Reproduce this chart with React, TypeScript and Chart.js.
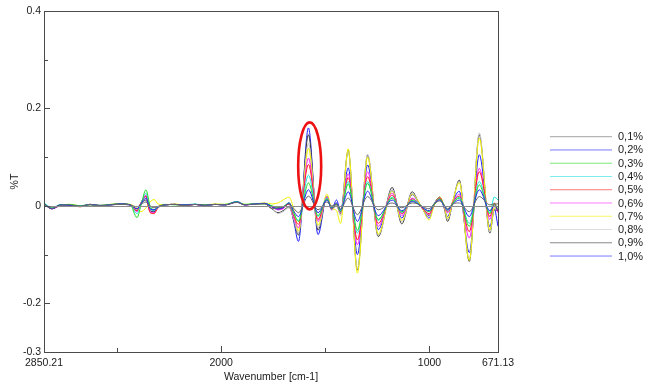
import React, { useEffect, useRef } from "react";
import { Chart, registerables } from "chart.js";

Chart.register(...registerables);

// Wavenumber sample positions (cm-1)
const wavenumbers = [
  2850.21, 2812, 2773, 2725, 2677, 2629, 2581, 2533, 2485, 2437,
  2404, 2385, 2361, 2341, 2322, 2303,
  2269, 2221, 2173, 2125, 2078, 2030, 1982, 1924, 1886, 1838, 1790,
  1756, 1727, 1703, 1674, 1650, 1629, 1581, 1535, 1492, 1470, 1446, 1427,
  1390, 1346, 1297, 1246, 1179, 1133, 1083, 1055, 1031, 1002, 978, 950,
  930, 913, 887, 857, 809, 761, 710, 689, 671.13,
];

const seriesLabels = ["0,1%", "0,2%", "0,3%", "0,4%", "0,5%", "0,6%", "0,7%", "0,8%", "0,9%", "1,0%"];

const s01 = [
  0.004, -0.005, 0.001, 0.002, -0.001, 0.003, 0.0, 0.002, 0.003, 0.002,
  -0.002, 0.003, 0.008, 0.0, -0.004, -0.001,
  0.002, 0.003, 0.001, 0.003, 0.001, 0.003, 0.002, 0.007, 0.002, 0.004, 0.004,
  -0.006, -0.004, -0.002, 0.004, -0.006, -0.014, 0.02, -0.008, 0.008, 0.0, 0.004, -0.006,
  0.016, -0.018, 0.019, -0.008, 0.006, -0.004, 0.006, 0.004, -0.002, -0.006, 0.004, 0.01,
  0.002, -0.006, 0.004, 0.006, -0.012, 0.019, 0.002, 0.004, 0.004,
];
const s02 = [
  0.005, -0.006, 0.002, 0.001, -0.001, 0.003, 0.001, 0.002, 0.004, 0.002,
  -0.006, 0.004, 0.016, -0.006, -0.008, -0.002,
  0.002, 0.003, 0.002, 0.003, 0.001, 0.003, 0.002, 0.008, 0.002, 0.004, 0.005,
  -0.002, -0.006, -0.004, 0.006, -0.012, -0.022, 0.033, -0.014, 0.012, -0.004, 0.006, -0.008,
  0.029, -0.032, 0.03, -0.02, 0.012, -0.01, 0.009, 0.004, -0.004, -0.01, 0.004, 0.012,
  0.0, -0.008, 0.004, 0.012, -0.022, 0.033, -0.01, 0.0, -0.01,
];
const s03 = [
  0.003, -0.005, 0.002, 0.003, 0.0, 0.002, 0.001, 0.003, 0.004, 0.003,
  -0.024, 0.0, 0.033, 0.0, -0.008, -0.002,
  0.003, 0.002, 0.002, 0.003, 0.002, 0.003, 0.003, 0.008, 0.003, 0.004, 0.004,
  0.0, -0.004, -0.002, 0.006, -0.016, -0.032, 0.047, -0.02, 0.014, -0.006, 0.004, -0.012,
  0.045, -0.05, 0.046, -0.028, 0.016, -0.012, 0.011, 0.004, -0.004, -0.012, 0.002, 0.014,
  0.002, -0.008, 0.006, 0.016, -0.042, 0.043, -0.016, 0.004, -0.006,
];
const s04 = [
  0.006, -0.004, 0.002, 0.002, 0.0, 0.003, 0.0, 0.002, 0.003, 0.002,
  -0.016, 0.004, 0.026, -0.004, -0.01, -0.003,
  0.002, 0.003, 0.002, 0.004, 0.001, 0.003, 0.002, 0.009, 0.002, 0.005, 0.005,
  0.0, -0.004, -0.002, 0.006, -0.018, -0.03, 0.063, -0.022, 0.016, -0.004, 0.004, -0.01,
  0.05, -0.056, 0.05, -0.03, 0.018, -0.014, 0.012, 0.006, -0.004, -0.012, 0.004, 0.014,
  0.0, -0.01, 0.006, 0.018, -0.036, 0.05, -0.014, 0.018, 0.012,
];
const s05 = [
  0.004, -0.006, 0.001, 0.002, -0.002, 0.003, 0.0, 0.002, 0.004, 0.002,
  -0.01, 0.006, 0.02, -0.014, -0.016, -0.004,
  0.002, 0.003, 0.001, 0.003, 0.001, 0.003, 0.002, 0.008, 0.002, 0.004, 0.005,
  -0.002, -0.006, -0.004, 0.004, -0.022, -0.038, 0.085, -0.028, 0.016, -0.006, 0.004, -0.012,
  0.058, -0.07, 0.06, -0.036, 0.022, -0.016, 0.014, 0.006, -0.006, -0.016, 0.002, 0.016,
  0.0, -0.012, 0.008, 0.02, -0.053, 0.07, -0.022, 0.006, -0.012,
];
const s06 = [
  0.004, -0.006, 0.001, 0.002, -0.001, 0.002, 0.0, 0.002, 0.003, 0.002,
  -0.012, 0.005, 0.022, -0.012, -0.014, -0.004,
  0.002, 0.003, 0.001, 0.003, 0.001, 0.003, 0.002, 0.008, 0.002, 0.004, 0.005,
  -0.002, -0.008, -0.006, 0.004, -0.026, -0.045, 0.098, -0.032, 0.018, -0.008, 0.004, -0.014,
  0.066, -0.08, 0.07, -0.042, 0.026, -0.02, 0.016, 0.006, -0.006, -0.018, 0.002, 0.016,
  0.0, -0.014, 0.008, 0.024, -0.066, 0.077, -0.028, 0.004, -0.014,
];
const s07 = [
  0.003, -0.004, 0.002, 0.003, 0.0, 0.003, 0.001, 0.003, 0.004, 0.003,
  -0.005, -0.012, -0.004, 0.008, 0.013, 0.004,
  0.002, 0.004, 0.002, 0.003, 0.002, 0.004, 0.003, 0.008, 0.003, 0.004, 0.006,
  0.004, 0.006, 0.012, 0.018, -0.01, -0.052, 0.118, -0.04, 0.024, -0.004, -0.01, -0.036,
  0.117, -0.138, 0.1, -0.058, 0.03, -0.03, 0.024, 0.01, -0.008, -0.029, 0.0, 0.018,
  0.0, -0.026, 0.012, 0.048, -0.112, 0.139, -0.05, -0.004, -0.01,
];
const s08 = [
  0.004, -0.005, 0.001, 0.002, -0.001, 0.003, 0.0, 0.002, 0.004, 0.002,
  -0.008, 0.004, 0.014, -0.008, -0.01, -0.003,
  0.002, 0.003, 0.001, 0.003, 0.001, 0.003, 0.002, 0.008, 0.002, 0.004, 0.004,
  -0.004, -0.016, -0.012, -0.004, -0.03, -0.056, 0.128, -0.045, 0.02, -0.006, 0.002, -0.02,
  0.112, -0.13, 0.106, -0.06, 0.034, -0.032, 0.026, 0.01, -0.006, -0.022, 0.002, 0.016,
  0.0, -0.028, 0.012, 0.05, -0.11, 0.15, -0.054, -0.006, -0.008,
];
const s09 = [
  0.004, -0.006, 0.001, 0.002, -0.001, 0.003, 0.0, 0.002, 0.004, 0.002,
  -0.006, 0.004, 0.012, -0.01, -0.012, -0.003,
  0.002, 0.003, 0.001, 0.003, 0.001, 0.003, 0.002, 0.009, 0.002, 0.004, 0.005,
  -0.006, -0.014, -0.01, -0.002, -0.032, -0.06, 0.146, -0.05, 0.02, -0.006, 0.0, -0.016,
  0.114, -0.132, 0.104, -0.063, 0.038, -0.037, 0.029, 0.01, -0.006, -0.02, 0.004, 0.018,
  -0.004, -0.032, 0.01, 0.053, -0.114, 0.146, -0.056, -0.008, -0.01,
];
const s10 = [
  0.003, -0.006, 0.0, 0.002, -0.001, 0.003, 0.0, 0.002, 0.004, 0.002,
  -0.01, 0.006, 0.02, -0.008, -0.012, -0.003,
  0.002, 0.003, 0.001, 0.003, 0.001, 0.003, 0.002, 0.008, 0.002, 0.004, 0.005,
  -0.002, -0.008, -0.004, 0.006, -0.035, -0.073, 0.16, -0.059, 0.02, -0.008, 0.012, -0.01,
  0.078, -0.1, 0.084, -0.049, 0.031, -0.025, 0.023, 0.008, -0.008, -0.025, 0.002, 0.018,
  -0.002, -0.022, 0.01, 0.03, -0.096, 0.105, -0.043, -0.006, -0.042,
];

const seriesValues = [s01, s02, s03, s04, s05, s06, s07, s08, s09, s10];

const seriesColors = [
  "#686868", "#1f1fff", "#22dd22", "#22e0e0", "#ff2020",
  "#ff22ff", "#f2f200", "#c4c4c4", "#3a3a3a", "#2020ff",
];

const xTickValues = [2850.21, 2500, 2000, 1500, 1000, 671.13];
const xTickLabels = ["2850.21", "", "2000", "", "1000", "671.13"];
const yTickValues = [-0.3, -0.2, -0.1, 0, 0.1, 0.2, 0.3, 0.4];
const yTickLabels = ["-0.3", "-0.2", "", "0", "", "0.2", "", "0.4"];

const highlightWavenumber = 1575;
const highlightValue = 0.082;

const FONT = "Arial, 'Liberation Sans', sans-serif";

const framePlugin = {
  id: "frameAndTicks",
  afterDatasetsDraw(chart: any) {
    const { ctx, chartArea } = chart;
    const xs = chart.scales.x;
    const ys = chart.scales.y;
    ctx.save();
    const y0 = Math.round(ys.getPixelForValue(0)) + 0.5;
    ctx.strokeStyle = "#8c8c8c";
    ctx.lineWidth = 1;
    ctx.beginPath();
    ctx.moveTo(chartArea.left, y0);
    ctx.lineTo(chartArea.right, y0);
    ctx.stroke();
    ctx.strokeStyle = "#4a4a4a";
    ctx.lineWidth = 1;
    ctx.strokeRect(
      Math.round(chartArea.left) + 0.5,
      Math.round(chartArea.top) + 0.5,
      Math.round(chartArea.right - chartArea.left),
      Math.round(chartArea.bottom - chartArea.top)
    );
    ctx.beginPath();
    xTickValues.forEach((v, i) => {
      if (i === 0 || i === xTickValues.length - 1) return;
      const px = Math.round(xs.getPixelForValue(v)) + 0.5;
      const len = xTickLabels[i] ? 6 : 4;
      ctx.moveTo(px, chartArea.bottom);
      ctx.lineTo(px, chartArea.bottom - len);
    });
    yTickValues.forEach((v, i) => {
      if (i === 0 || i === yTickValues.length - 1) return;
      const py = Math.round(ys.getPixelForValue(v)) + 0.5;
      const len = yTickLabels[i] ? 6 : 4;
      ctx.moveTo(chartArea.left, py);
      ctx.lineTo(chartArea.left + len, py);
    });
    ctx.stroke();
    ctx.restore();
  },
};

const highlightPlugin = {
  id: "highlight",
  afterDraw(chart: any) {
    const { ctx } = chart;
    const cx = chart.scales.x.getPixelForValue(highlightWavenumber);
    const cy = chart.scales.y.getPixelForValue(highlightValue);
    ctx.save();
    ctx.strokeStyle = "#ee1111";
    ctx.lineWidth = 2.6;
    ctx.beginPath();
    ctx.ellipse(cx, cy, 11.5, 43.5, 0, 0, Math.PI * 2);
    ctx.stroke();
    ctx.restore();
  },
};

const legendPlugin = {
  id: "sideLegend",
  afterDraw(chart: any) {
    const { ctx } = chart;
    ctx.save();
    ctx.font = `11px ${FONT}`;
    ctx.textBaseline = "middle";
    ctx.textAlign = "left";
    chart.data.datasets.forEach((ds: any, i: number) => {
      const y = 136.7 + i * 13.26;
      ctx.strokeStyle = ds.borderColor;
      ctx.globalAlpha = 0.6;
      ctx.lineWidth = 1;
      ctx.beginPath();
      ctx.moveTo(550, y);
      ctx.lineTo(612, y);
      ctx.stroke();
      ctx.globalAlpha = 1;
      ctx.fillStyle = "#222";
      ctx.fillText(ds.label, 618, y + 0.5);
    });
    ctx.restore();
  },
};

export default function App() {
  const canvasRef = useRef<HTMLCanvasElement | null>(null);

  useEffect(() => {
    if (!canvasRef.current) return;
    const datasets = seriesValues.map((vals, si) => ({
      label: seriesLabels[si],
      data: wavenumbers.map((x, i) => ({ x, y: vals[i] })),
      borderColor: seriesColors[si],
      backgroundColor: seriesColors[si],
      borderWidth: 1,
      pointRadius: 0,
      fill: false,
      cubicInterpolationMode: "monotone" as const,
    }));

    const chart = new Chart(canvasRef.current, {
      type: "line",
      data: { datasets },
      options: {
        animation: false,
        responsive: false,
        maintainAspectRatio: false,
        layout: { padding: { top: 11, right: 155, left: 0, bottom: 0 } },
        plugins: {
          legend: { display: false },
          tooltip: { enabled: false },
        },
        scales: {
          x: {
            type: "linear",
            reverse: true,
            min: 671.13,
            max: 2850.21,
            grid: { display: false, drawTicks: false },
            border: { display: false },
            afterBuildTicks: (scale: any) => {
              scale.ticks = xTickValues.map((v) => ({ value: v }));
            },
            afterFit: (scale: any) => {
              scale.height = 34;
            },
            ticks: {
              autoSkip: false,
              maxRotation: 0,
              minRotation: 0,
              padding: 5,
              color: "#1a1a1a",
              font: { family: FONT, size: 10.5 },
              callback: (_v: any, i: number) => xTickLabels[i],
            },
            title: {
              display: true,
              text: "Wavenumber [cm-1]",
              color: "#1a1a1a",
              font: { family: FONT, size: 10.5 },
              padding: { top: 0, bottom: 3 },
            },
          },
          y: {
            type: "linear",
            min: -0.3,
            max: 0.4,
            grid: { display: false, drawTicks: false },
            border: { display: false },
            afterBuildTicks: (scale: any) => {
              scale.ticks = yTickValues.map((v) => ({ value: v }));
            },
            afterFit: (scale: any) => {
              scale.width = 44;
            },
            ticks: {
              autoSkip: false,
              padding: 3,
              color: "#1a1a1a",
              font: { family: FONT, size: 10.5 },
              callback: (_v: any, i: number) => yTickLabels[i],
            },
            title: {
              display: true,
              text: "%T",
              color: "#1a1a1a",
              font: { family: FONT, size: 10.5 },
              padding: { top: 9, bottom: 0 },
            },
          },
        },
      },
      plugins: [framePlugin, highlightPlugin, legendPlugin],
    });
    return () => chart.destroy();
  }, []);

  return (
    <div style={{ position: "absolute", left: 0, top: 0, width: 653, height: 386, background: "#fff" }}>
      <canvas ref={canvasRef} width={653} height={386} style={{ width: 653, height: 386 }} />
    </div>
  );
}
